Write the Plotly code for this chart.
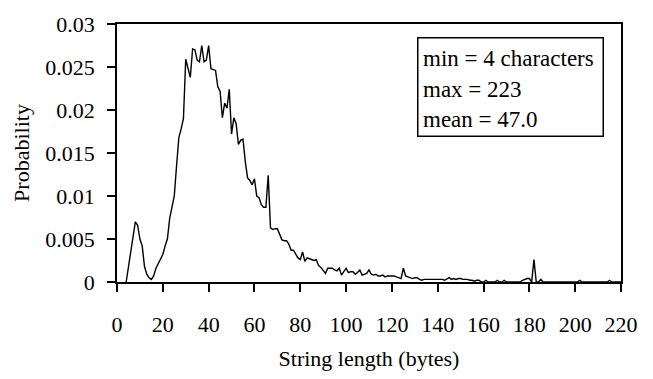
import plotly.graph_objects as go

# ---- data ----
lengths = list(range(4, 224))
probability = [
    0.0, 0.0017, 0.0035, 0.0053, 0.0070, 0.0066, 0.0050, 0.0042, 0.0018, 0.0009,
    0.0005, 0.0003, 0.0007, 0.0016, 0.0021, 0.0027, 0.0032, 0.0042, 0.0050, 0.0074,
    0.0088, 0.0100, 0.0135, 0.0168, 0.0178, 0.0190, 0.0259, 0.0250, 0.0238, 0.0271,
    0.0270, 0.0258, 0.0256, 0.0275, 0.0256, 0.0258, 0.0275, 0.0248, 0.0247, 0.0246,
    0.0227, 0.0222, 0.0191, 0.0208, 0.0202, 0.0224, 0.0172, 0.0191, 0.0184, 0.0160,
    0.0165, 0.0166, 0.0140, 0.0121, 0.0118, 0.0113, 0.0120, 0.0100, 0.0098, 0.0090,
    0.0087, 0.0087, 0.0124, 0.0063, 0.0061, 0.0062, 0.0062, 0.0055, 0.0049, 0.0048,
    0.0048, 0.0044, 0.0037, 0.0037, 0.0033, 0.0028, 0.0026, 0.0035, 0.0024, 0.0028,
    0.0027, 0.0026, 0.0025, 0.0026, 0.0019, 0.0017, 0.0013, 0.0010, 0.0016, 0.0016,
    0.0016, 0.0014, 0.0013, 0.0016, 0.0008, 0.0012, 0.0016, 0.0011, 0.0012, 0.0012,
    0.0009, 0.0011, 0.0014, 0.0008, 0.0009, 0.0010, 0.0014, 0.0009, 0.0008, 0.0009,
    0.0007, 0.0007, 0.0008, 0.0006, 0.0007, 0.0007, 0.0007, 0.0007, 0.0006, 0.0005,
    0.0004, 0.0016, 0.0007, 0.0006, 0.0005, 0.0004, 0.0005, 0.0005, 0.0003, 0.0002,
    0.0003, 0.0003, 0.0003, 0.0003, 0.0003, 0.0003, 0.0003, 0.0003, 0.0003, 0.0002,
    0.0004, 0.0005, 0.0003, 0.0004, 0.0003, 0.0004, 0.0004, 0.0003, 0.0003, 0.0003,
    0.0002, 0.0002, 0.0001, 0.0002, 0.0002, 0.0, 0.0, 0.0002, 0.0, 0.0,
    0.0, 0.0, 0.0002, 0.0, 0.0, 0.0002, 0.0, 0.0, 0.0, 0.0,
    0.0, 0.0, 0.0, 0.0002, 0.0003, 0.0004, 0.0004, 0.0, 0.0026, 0.0,
    0.0, 0.0003, 0.0, 0.0, 0.0, 0.0, 0.0, 0.0, 0.0, 0.0,
    0.0, 0.0, 0.0, 0.0, 0.0, 0.0, 0.0, 0.0, 0.0002, 0.0,
    0.0, 0.0, 0.0, 0.0, 0.0, 0.0, 0.0, 0.0, 0.0, 0.0,
    0.0, 0.0002, 0.0, 0.0, 0.0, 0.0, 0.0, 0.0, 0.0, 0.0,
]

x_tickvals = [0, 20, 40, 60, 80, 100, 120, 140, 160, 180, 200, 220]
y_tickvals = [0, 0.005, 0.01, 0.015, 0.02, 0.025, 0.03]
y_ticktext = ["0", "0.005", "0.01", "0.015", "0.02", "0.025", "0.03"]
stats_lines = ["min = 4 characters", "max = 223", "mean = 47.0"]
stats_y = [0.8645, 0.7446, 0.6284]

fig = go.Figure(go.Scatter(x=lengths, y=probability, mode="lines",
                           line=dict(color="black", width=1.4)))
fig.update_layout(
    width=653, height=379,
    margin=dict(l=117, r=32, t=12, b=92),
    plot_bgcolor="white",
    xaxis=dict(
        range=[0, 220], tickvals=x_tickvals,
        ticks="outside", ticklen=8, tickwidth=1.5, tickcolor="black",
        showline=True, linewidth=1.5, linecolor="black", mirror=True,
        showgrid=False, zeroline=False, ticklabelstandoff=14,
        tickfont=dict(family="Liberation Serif", size=22, color="black"),
        title=dict(text="String length (bytes)", standoff=14,
                   font=dict(family="Liberation Serif", size=22, color="black")),
    ),
    yaxis=dict(
        range=[0, 0.03], tickvals=y_tickvals, ticktext=y_ticktext,
        ticks="outside", ticklen=8, tickwidth=1.5, tickcolor="black",
        showline=True, linewidth=1.5, linecolor="black", mirror=True,
        showgrid=False, zeroline=False, ticklabelstandoff=8,
        tickfont=dict(family="Liberation Serif", size=22, color="black"),
        title=dict(text="Probability", standoff=10,
                   font=dict(family="Liberation Serif", size=22, color="black")),
    ),
)
fig.add_annotation(text=" ", xref="paper", yref="paper", x=0.7802, y=0.7568,
                   xanchor="center", yanchor="middle", showarrow=False,
                   width=184, height=97, borderpad=0, bordercolor="black",
                   borderwidth=1.5,
                   font=dict(family="Liberation Serif", size=22, color="black"))
for txt, yy in zip(stats_lines, stats_y):
    fig.add_annotation(text=txt, xref="paper", yref="paper", x=0.603, y=yy,
                       xanchor="left", yanchor="middle", showarrow=False,
                       font=dict(family="Liberation Serif", size=23, color="black"))
fig.write_html("out.html")
